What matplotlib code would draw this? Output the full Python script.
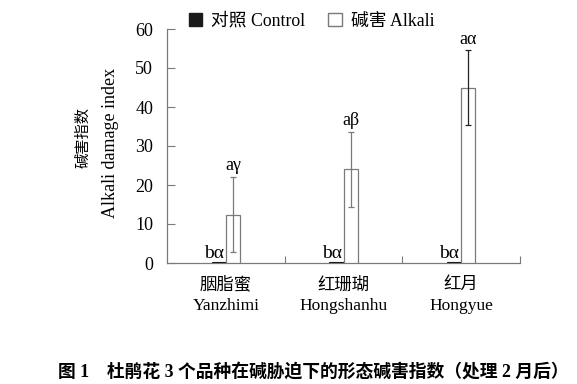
import matplotlib
matplotlib.use("Agg")
import matplotlib.pyplot as plt
from matplotlib.patches import Patch
import numpy as np

plt.rcParams['font.family'] = ['Liberation Serif', 'Noto Sans CJK SC', 'DejaVu Sans']

categories_cn = ["胭脂蜜", "红珊瑚", "红月"]
categories_en = ["Yanzhimi", "Hongshanhu", "Hongyue"]
control_vals = [0.3, 0.3, 0.3]
alkali_vals = [12.4, 24.0, 45.0]
alkali_err = [9.6, 9.6, 9.5]
control_labels = ["bα", "bα", "bα"]
alkali_labels = ["aγ", "aβ", "aα"]
legend_labels = ["对照 Control", "碱害 Alkali"]
ylabel_cn = "碱害指数"
ylabel_en = "Alkali damage index"
caption = "图 1　杜鹃花 3 个品种在碱胁迫下的形态碱害指数（处理 2 月后）"
yticks = [0, 10, 20, 30, 40, 50, 60]

fig = plt.figure(figsize=(5.77, 3.84), dpi=100)
ax = fig.add_axes([167/577, 1-263/384, (520-167)/577, (263-29)/384])

x = np.arange(len(categories_cn))
w = 0.12
gray = '#7a7a7a'
ax.bar(x - w/2, control_vals, w, color='#1a1a1a', edgecolor='#1a1a1a', linewidth=0.8, zorder=3)
ax.bar(x + w/2, alkali_vals, w, color='white', edgecolor=gray, linewidth=0.9, zorder=3)
err_colors = [gray, gray, '#222222']
for i in range(len(x)):
    ax.errorbar(x[i] + w/2, alkali_vals[i], yerr=alkali_err[i], fmt='none',
                ecolor=err_colors[i], elinewidth=0.9, capsize=2.5, capthick=0.9, zorder=4)
    ax.annotate(alkali_labels[i], (x[i] + w/2, alkali_vals[i] + alkali_err[i]),
                xytext=(0, 2), textcoords='offset points', ha='center', va='bottom', fontsize=13)
    ax.annotate(control_labels[i], (x[i] - w/2 - 0.04, control_vals[i]),
                xytext=(0, 0), textcoords='offset points', ha='center', va='bottom', fontsize=14)

ax.set_xlim(-0.5, 2.5)
ax.set_ylim(0, 60)
ax.set_yticks(yticks)
ax.set_xticks(x)
ax.set_xticklabels([f"{c}\n{e}" for c, e in zip(categories_cn, categories_en)],
                   fontsize=12.5, linespacing=1.4)
ax.set_xticks([0.5, 1.5, 2.5], minor=True)
ax.tick_params(axis='x', which='major', length=0, pad=10)
ax.tick_params(axis='x', which='minor', direction='in', length=5, color=gray, width=0.8)
ax.tick_params(axis='y', direction='in', length=6, color=gray, width=0.8, labelsize=13, pad=10)
for s in ['top', 'right']:
    ax.spines[s].set_visible(False)
for s in ['left', 'bottom']:
    ax.spines[s].set_color(gray)
    ax.spines[s].set_linewidth(0.9)

fig.text(83/577, 1-138/384, ylabel_cn, rotation=90, ha='center', va='center', fontsize=11)
fig.text(111/577, 1-143/384, ylabel_en, rotation=90, ha='center', va='center', fontsize=13)

handles = [Patch(facecolor='#1a1a1a', edgecolor='#1a1a1a'),
           Patch(facecolor='white', edgecolor=gray)]
fig.legend(handles, legend_labels, ncol=2, frameon=False, loc='center left',
           bbox_to_anchor=(189/577, 1-21/384), fontsize=12.8, handlelength=0.75, handleheight=0.75,
           handletextpad=0.5, columnspacing=1.3, borderpad=0, borderaxespad=0)

fig.text(58/577, 1-372/384, caption, ha='left', va='center', fontsize=12.8, fontweight='bold')

fig.savefig("out.png", dpi=100)
